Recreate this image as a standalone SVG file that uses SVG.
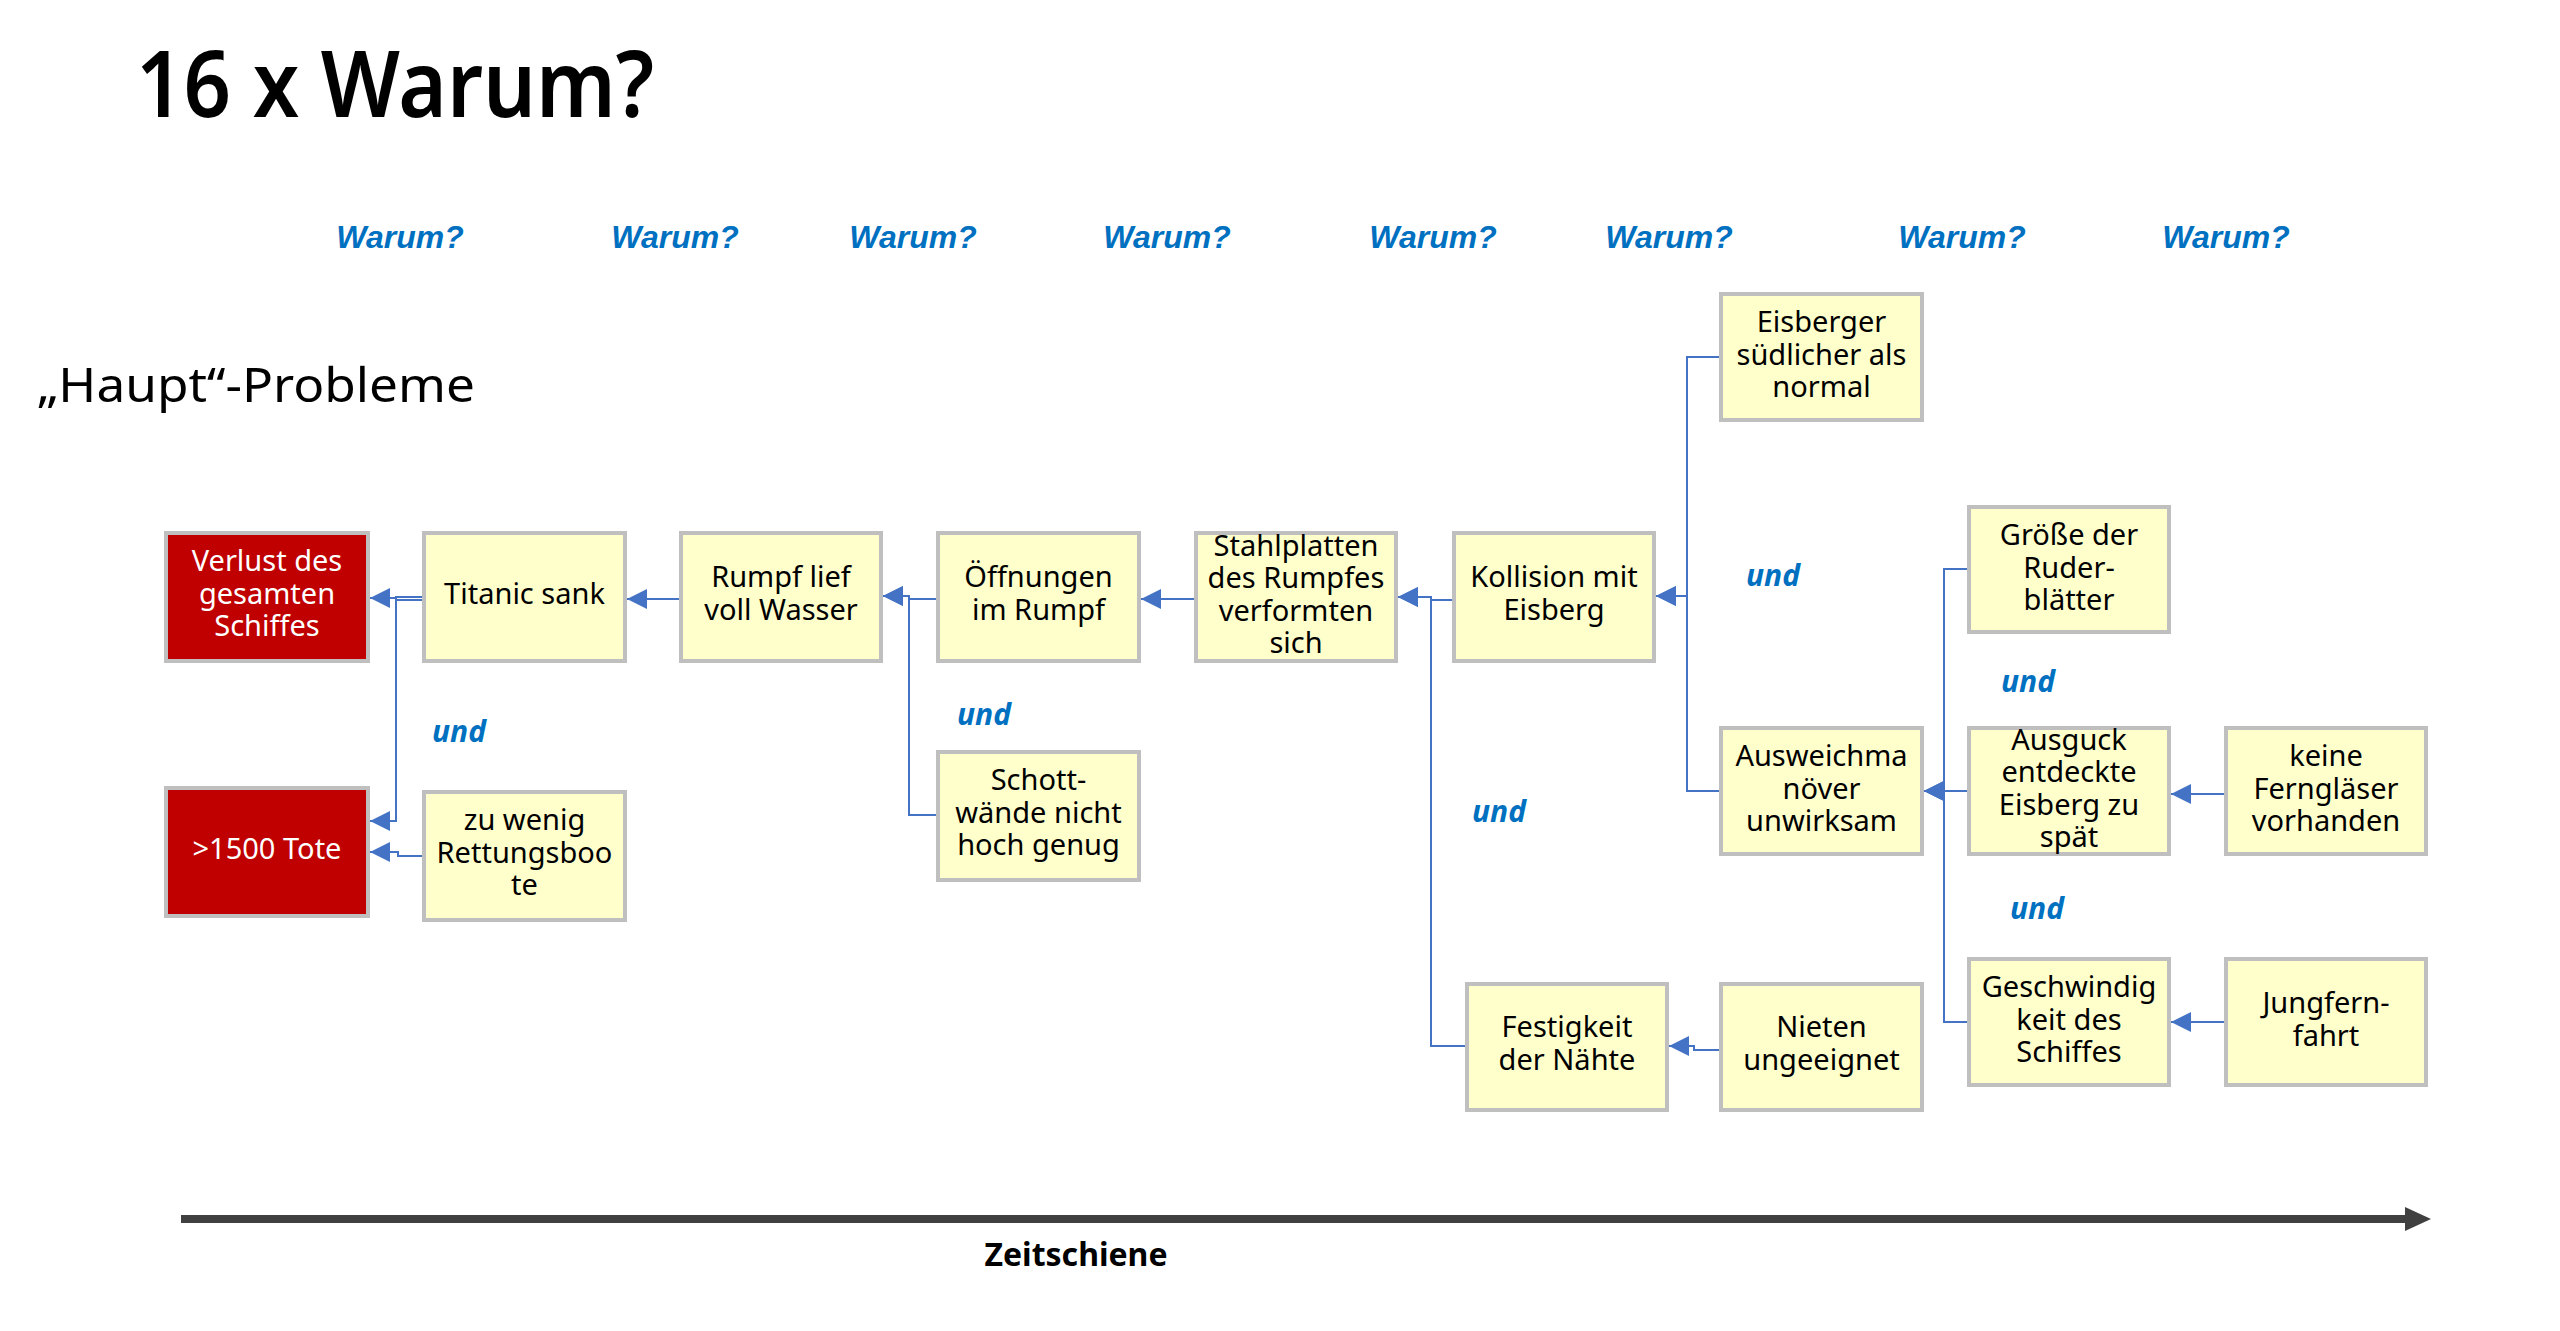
<svg xmlns="http://www.w3.org/2000/svg" width="2560" height="1331" viewBox="0 0 2560 1331">
<defs>
<style>
.box{fill:#FFFFCC;stroke:#BFBFBF;stroke-width:4}
.red{fill:#C00000;stroke:#BFBFBF;stroke-width:4}
.t{font-family:"Noto Sans","Open Sans","DejaVu Sans",sans-serif;font-size:29px;fill:#000;text-anchor:middle}
.tw{font-family:"Noto Sans","Open Sans","DejaVu Sans",sans-serif;font-size:29px;fill:#FFFFFF;text-anchor:middle}
.warum{font-family:"Liberation Sans",Arial,sans-serif;font-size:32px;font-weight:bold;font-style:italic;fill:#0070C0;text-anchor:middle}
.und{font-family:"Noto Sans","Open Sans",sans-serif;font-size:30px;font-weight:bold;font-style:italic;fill:#0070C0}
.con{fill:none;stroke:#4472C4;stroke-width:2;marker-end:url(#ah)}
</style>
<marker id="ah" markerUnits="userSpaceOnUse" markerWidth="20" markerHeight="20" viewBox="0 0 20 20" refX="20" refY="10" orient="auto">
<path d="M0,0 L20,10 L0,20 z" fill="#4472C4"/>
</marker>
</defs>
<rect width="2560" height="1331" fill="#FFFFFF"/>

<g id="title">
<text x="136" y="117" font-family="Noto Sans, Open Sans, sans-serif" font-size="92" font-weight="600" textLength="518" lengthAdjust="spacingAndGlyphs">16 x Warum?</text>
<text x="37" y="402" font-family="Noto Sans, Open Sans, sans-serif" font-size="48" textLength="438" lengthAdjust="spacingAndGlyphs">„Haupt“-Probleme</text>
</g>

<g id="warum-labels">
<text class="warum" x="400" y="248">Warum?</text>
<text class="warum" x="675" y="248">Warum?</text>
<text class="warum" x="913" y="248">Warum?</text>
<text class="warum" x="1167" y="248">Warum?</text>
<text class="warum" x="1433" y="248">Warum?</text>
<text class="warum" x="1669" y="248">Warum?</text>
<text class="warum" x="1962" y="248">Warum?</text>
<text class="warum" x="2226" y="248">Warum?</text>
</g>

<g id="und-labels">
<text class="und" x="432" y="742">und</text>
<text class="und" x="957" y="725">und</text>
<text class="und" x="1472" y="822">und</text>
<text class="und" x="1746" y="586">und</text>
<text class="und" x="2001" y="692">und</text>
<text class="und" x="2010" y="919">und</text>
</g>

<g id="connectors">
<path class="con" d="M422,597 H396 V598 H370"/>
<path class="con" d="M422,600 H396 V821 H370"/>
<path class="con" d="M422,856 H398 V852 H370"/>
<path class="con" d="M679,599 H627"/>
<path class="con" d="M936,599 H909 V596 H883"/>
<path class="con" d="M936,815 H909 V596 H883"/>
<path class="con" d="M1194,599 H1141"/>
<path class="con" d="M1452,600 H1431 V597 H1398"/>
<path class="con" d="M1465,1046 H1431 V597 H1398"/>
<path class="con" d="M1719,357 H1687 V596 H1656"/>
<path class="con" d="M1719,791 H1687 V596 H1656"/>
<path class="con" d="M1719,1050 H1694 V1046 H1669"/>
<path class="con" d="M1967,569 H1944 V791 H1924"/>
<path class="con" d="M1967,791 H1924"/>
<path class="con" d="M1967,1022 H1944 V791 H1924"/>
<path class="con" d="M2224,794 H2171"/>
<path class="con" d="M2224,1022 H2171"/>
</g>

<g id="n-verlust">
<rect class="red" x="166" y="533" width="202" height="128"/>
<text class="tw"><tspan x="267" y="571">Verlust des</tspan><tspan x="267" y="603.5">gesamten</tspan><tspan x="267" y="636">Schiffes</tspan></text>
</g>
<g id="n-tote">
<rect class="red" x="166" y="788" width="202" height="128"/>
<text class="tw"><tspan x="267" y="858.5">&gt;1500 Tote</tspan></text>
</g>
<g id="n-titanic">
<rect class="box" x="424" y="533" width="201" height="128"/>
<text class="t"><tspan x="524.5" y="603.5">Titanic sank</tspan></text>
</g>
<g id="n-rettungsboote">
<rect class="box" x="424" y="792" width="201" height="128"/>
<text class="t"><tspan x="524.5" y="830">zu wenig</tspan><tspan x="524.5" y="862.5">Rettungsboo</tspan><tspan x="524.5" y="895">te</tspan></text>
</g>
<g id="n-rumpf">
<rect class="box" x="681" y="533" width="200" height="128"/>
<text class="t"><tspan x="781" y="587.25">Rumpf lief</tspan><tspan x="781" y="619.75">voll Wasser</tspan></text>
</g>
<g id="n-oeffnungen">
<rect class="box" x="938" y="533" width="201" height="128"/>
<text class="t"><tspan x="1038.5" y="587.25">Öffnungen</tspan><tspan x="1038.5" y="619.75">im Rumpf</tspan></text>
</g>
<g id="n-schott">
<rect class="box" x="938" y="752" width="201" height="128"/>
<text class="t"><tspan x="1038.5" y="790">Schott-</tspan><tspan x="1038.5" y="822.5">wände nicht</tspan><tspan x="1038.5" y="855">hoch genug</tspan></text>
</g>
<g id="n-stahlplatten">
<rect class="box" x="1196" y="533" width="200" height="128"/>
<text class="t"><tspan x="1296" y="555.75">Stahlplatten</tspan><tspan x="1296" y="588.25">des Rumpfes</tspan><tspan x="1296" y="620.75">verformten</tspan><tspan x="1296" y="653.25">sich</tspan></text>
</g>
<g id="n-kollision">
<rect class="box" x="1454" y="533" width="200" height="128"/>
<text class="t"><tspan x="1554" y="587.25">Kollision mit</tspan><tspan x="1554" y="619.75">Eisberg</tspan></text>
</g>
<g id="n-festigkeit">
<rect class="box" x="1467" y="984" width="200" height="126"/>
<text class="t"><tspan x="1567" y="1037.25">Festigkeit</tspan><tspan x="1567" y="1069.75">der Nähte</tspan></text>
</g>
<g id="n-eisberger">
<rect class="box" x="1721" y="294" width="201" height="126"/>
<text class="t"><tspan x="1821.5" y="332">Eisberger</tspan><tspan x="1821.5" y="364.5">südlicher als</tspan><tspan x="1821.5" y="397">normal</tspan></text>
</g>
<g id="n-ausweich">
<rect class="box" x="1721" y="728" width="201" height="126"/>
<text class="t"><tspan x="1821.5" y="766">Ausweichma</tspan><tspan x="1821.5" y="798.5">növer</tspan><tspan x="1821.5" y="831">unwirksam</tspan></text>
</g>
<g id="n-nieten">
<rect class="box" x="1721" y="984" width="201" height="126"/>
<text class="t"><tspan x="1821.5" y="1037.25">Nieten</tspan><tspan x="1821.5" y="1069.75">ungeeignet</tspan></text>
</g>
<g id="n-groesse">
<rect class="box" x="1969" y="507" width="200" height="125"/>
<text class="t"><tspan x="2069" y="545">Größe der</tspan><tspan x="2069" y="577.5">Ruder-</tspan><tspan x="2069" y="610">blätter</tspan></text>
</g>
<g id="n-ausguck">
<rect class="box" x="1969" y="728" width="200" height="126"/>
<text class="t"><tspan x="2069" y="749.75">Ausguck</tspan><tspan x="2069" y="782.25">entdeckte</tspan><tspan x="2069" y="814.75">Eisberg zu</tspan><tspan x="2069" y="847.25">spät</tspan></text>
</g>
<g id="n-geschwindigkeit">
<rect class="box" x="1969" y="959" width="200" height="126"/>
<text class="t"><tspan x="2069" y="997">Geschwindig</tspan><tspan x="2069" y="1029.5">keit des</tspan><tspan x="2069" y="1062">Schiffes</tspan></text>
</g>
<g id="n-fernglaeser">
<rect class="box" x="2226" y="728" width="200" height="126"/>
<text class="t"><tspan x="2326" y="766">keine</tspan><tspan x="2326" y="798.5">Ferngläser</tspan><tspan x="2326" y="831">vorhanden</tspan></text>
</g>
<g id="n-jungfernfahrt">
<rect class="box" x="2226" y="959" width="200" height="126"/>
<text class="t"><tspan x="2326" y="1013.25">Jungfern-</tspan><tspan x="2326" y="1045.75">fahrt</tspan></text>
</g>

<g id="timeline">
<line x1="181" y1="1219" x2="2408" y2="1219" stroke="#404040" stroke-width="8"/>
<polygon points="2405,1207 2431,1219 2405,1231" fill="#404040"/>
<text x="1076" y="1266" font-family="Noto Sans, Open Sans, sans-serif" font-size="32" font-weight="bold" text-anchor="middle">Zeitschiene</text>
</g>
</svg>
